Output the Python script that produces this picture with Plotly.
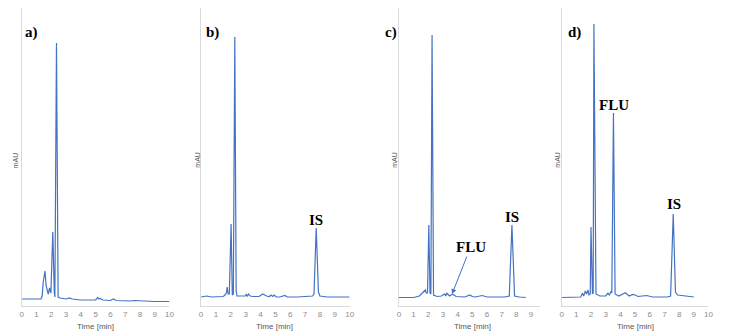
import plotly.graph_objects as go

# ---- data (time in min, signal in arbitrary mAU) ----
t_a = [0, 0.5, 1.0, 1.3, 1.38, 1.45, 1.57, 1.65, 1.79, 1.88, 1.97, 2.10, 2.20, 2.24, 2.35, 2.42, 2.46, 2.6, 3.0, 3.24,
       3.4, 4.0, 5.0, 5.14, 5.22, 5.3, 5.5, 6.0, 6.2, 6.4, 7.0, 7.4, 7.6, 8.0, 8.2, 8.5, 9.0, 10.0]
v_a = [7, 7, 6.5, 7, 10, 24, 35, 20, 12, 18, 13, 74, 14, 9, 263, 106, 9, 8, 7, 8,
       7, 6, 6, 8.5, 7, 7.5, 6, 5.5, 7, 5.5, 5, 5, 5.5, 5, 5.5, 5, 4.5, 4.5]

t_b = [0, 0.38, 0.7, 1.0, 1.5, 1.6, 1.7, 1.76, 1.82, 1.9, 2.02, 2.1, 2.17, 2.27, 2.31, 2.36, 2.42, 2.6, 3.0, 3.04,
       3.12, 3.2, 3.3, 3.5, 3.9, 4.16, 4.4, 4.6, 4.71, 4.82, 4.92, 5.05, 5.3, 5.64, 5.8, 6.5, 7.0, 7.5, 7.6, 7.75,
       7.9, 8.0, 8.5, 9.0, 10.0]
v_b = [9, 10, 9, 9, 9.5, 11, 13, 19, 12, 12, 82, 11, 12, 269, 46, 15, 10, 10, 10, 12,
       10, 12, 10, 9.5, 9.5, 12, 10, 9.5, 11, 9.5, 11, 9, 9, 10.5, 9, 9, 9.5, 10, 12, 78,
       14, 10, 9, 9, 9]

t_c = [0, 0.5, 1.0, 1.4, 1.6, 1.8, 1.86, 1.95, 2.04, 2.12, 2.18, 2.26, 2.36, 2.6, 2.9, 3.1, 3.2, 3.25, 3.45, 3.66,
       3.9, 4.5, 4.83, 5.0, 5.2, 5.68, 6.0, 7.2, 7.52, 7.7, 7.88, 8.2, 8.65]
v_c = [8.5, 8.5, 8.5, 10, 13, 16, 13, 13, 81, 13, 12, 271, 11, 9.5, 10, 12, 10, 13, 10, 11.7,
       9.5, 9, 11, 9.5, 9, 10.5, 9, 9, 10, 81, 10, 9, 8.5]

t_d = [0, 0.5, 1.0, 1.3, 1.42, 1.5, 1.62, 1.7, 1.8, 1.86, 1.95, 2.0, 2.1, 2.15, 2.2, 2.34, 2.6, 3.0, 3.15, 3.25,
       3.37, 3.42, 3.53, 3.64, 3.9, 4.34, 4.6, 4.83, 5.0, 5.2, 5.78, 6.2, 7.2, 7.42, 7.6, 7.75, 7.9, 8.5, 9.0]
v_d = [8.5, 8.5, 8.5, 9, 12.7, 10, 15, 12, 16, 11, 12, 79, 12, 13, 282, 12, 10, 10, 12.7, 11,
       14.7, 13, 193, 12, 10, 13.3, 10, 11.5, 11, 9.5, 10.5, 9, 9, 10, 92, 14, 11, 9.5, 9]

panel_labels = ["a)", "b)", "c)", "d)"]
x_ranges = [[0, 10], [0, 10], [0, 9.6], [0, 10]]
x_ticks = [list(range(0, 11)), list(range(0, 11)), list(range(0, 10)), list(range(0, 11))]
x_title = "Time [min]"
y_title = "mAU"

series = [(t_a, v_a), (t_b, v_b), (t_c, v_c), (t_d, v_d)]
for t, v in series:
    assert len(t) == len(v)

W, H = 734, 336
LINE = "#4472C4"
AXIS = "#D9D9D9"

# panel pixel layout
px_left = [20, 201, 400.7, 565]
px_right = [169, 351, 543, 713.3]
px_top, px_bottom = 8, 306


def px(x):
    return x / W


def py(y):
    return 1 - y / H


fig = go.Figure()
for i, (t, v) in enumerate(series):
    suf = "" if i == 0 else str(i + 1)
    fig.add_trace(go.Scatter(x=t, y=v, mode="lines", line=dict(color=LINE, width=1.2),
                             xaxis="x" + suf, yaxis="y" + suf, showlegend=False, hoverinfo="skip"))
    fig.layout["xaxis" + suf] = dict(
        domain=[px(px_left[i]), px(px_right[i])], anchor="y" + suf, range=x_ranges[i],
        tickvals=x_ticks[i], showgrid=False, zeroline=False, showline=True, linecolor=AXIS,
        linewidth=1, ticks="", tickfont=dict(family="Liberation Sans", size=8, color="#8C8C8C"),
        fixedrange=True)
    fig.layout["yaxis" + suf] = dict(
        domain=[py(px_bottom), py(px_top)], anchor="x" + suf, range=[0, 298],
        showgrid=False, zeroline=False, showline=True, linecolor=AXIS, linewidth=1,
        showticklabels=False, ticks="", fixedrange=True)

ann = []
bold = dict(family="Liberation Serif", size=15, color="black")
# panel letters
for lab, (x, y) in zip(panel_labels, [(30, 32), (213, 33), (393, 32), (578, 32)]):
    ann.append(dict(text="<b>%s</b>" % lab, x=px(x), y=py(y), xref="paper", yref="paper",
                    showarrow=False, font=bold, xanchor="center", yanchor="middle"))
# peak labels
for lab, (x, y) in [("IS", (317, 220)), ("IS", (515, 217)), ("FLU", (618, 105)), ("IS", (678, 204))]:
    ann.append(dict(text="<b>%s</b>" % lab, x=px(x), y=py(y), xref="paper", yref="paper",
                    showarrow=False, font=bold, xanchor="center", yanchor="middle"))
# FLU arrow in panel c
ann.append(dict(text="<b>FLU</b>", x=3.62, y=12, xref="x3", yref="y3", showarrow=True,
                ax=473 - (400.7 + 3.62 * 14.84), ay=-47, arrowhead=2, arrowsize=1, arrowwidth=1,
                arrowcolor=LINE, font=bold))
# axis titles
for i in range(4):
    ann.append(dict(text=x_title, x=px((px_left[i] + px_left[i] + 149) / 2), y=py(326),
                    xref="paper", yref="paper", showarrow=False,
                    font=dict(family="Liberation Sans", size=8, color="#595959"),
                    xanchor="center", yanchor="middle"))
for x in [13.5, 196.5, 395.5, 560]:
    ann.append(dict(text=y_title, x=px(x), y=py(160), xref="paper", yref="paper", showarrow=False,
                    textangle=-90, font=dict(family="Liberation Sans", size=7, color="#595959"),
                    xanchor="center", yanchor="middle"))

fig.update_layout(width=W, height=H, margin=dict(l=0, r=0, t=0, b=0),
                  paper_bgcolor="white", plot_bgcolor="white", annotations=ann)
fig.write_html("out.html", config={"displayModeBar": False},
               post_script="document.body.style.margin='0';document.body.style.overflow='hidden';")
